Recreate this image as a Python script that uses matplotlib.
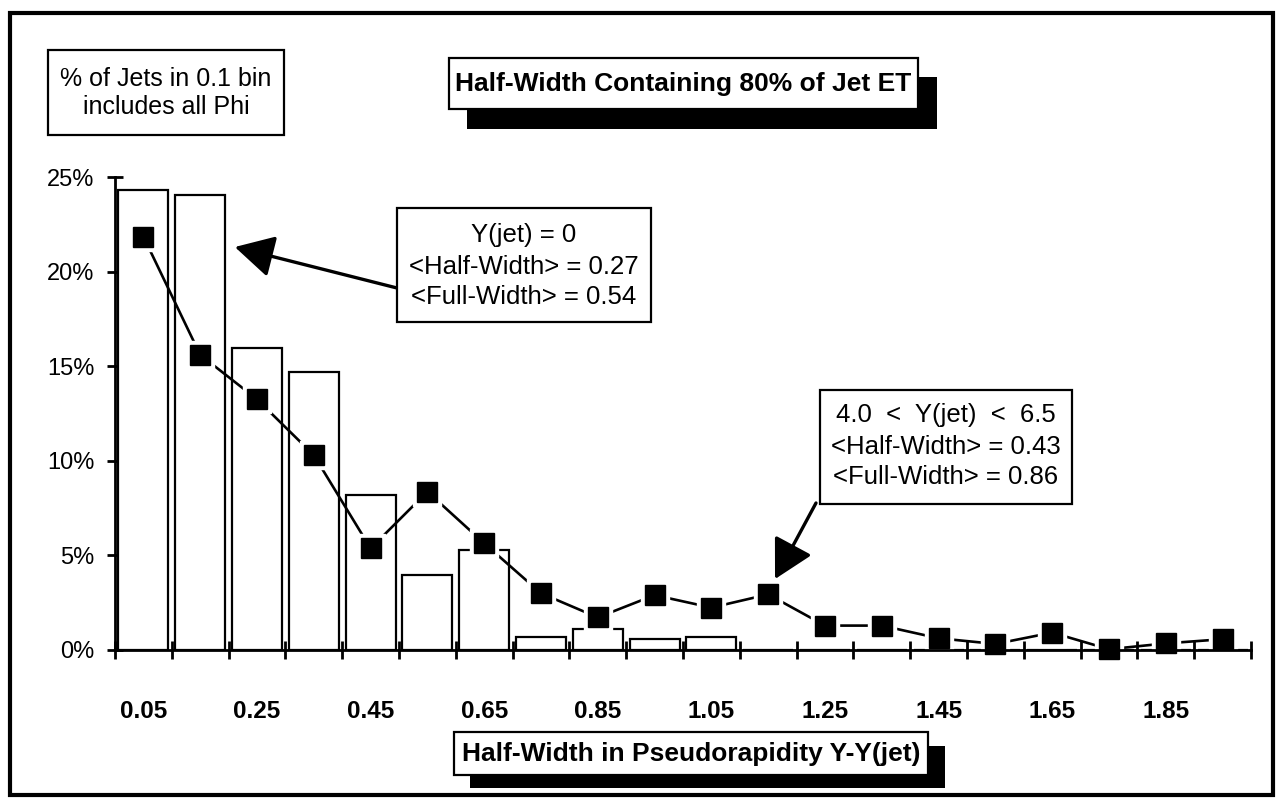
import matplotlib
matplotlib.use("Agg")
import matplotlib.pyplot as plt
from matplotlib.patches import Rectangle

# ---------------- data ----------------
bin_centers = [0.05, 0.15, 0.25, 0.35, 0.45, 0.55, 0.65, 0.75, 0.85, 0.95,
               1.05, 1.15, 1.25, 1.35, 1.45, 1.55, 1.65, 1.75, 1.85, 1.95]
# Y(jet)=0 sample (open bars), percent of jets per 0.1 bin
bar_pct = [24.3, 24.05, 15.95, 14.7, 8.2, 3.96, 5.3, 0.7, 1.1, 0.58,
           0.68, 0.0, 0.0, 0.0, 0.0, 0.0, 0.0, 0.0, 0.0, 0.0]
# 4.0 < Y(jet) < 6.5 sample (filled squares)
line_pct = [21.85, 15.6, 13.25, 10.3, 5.37, 8.37, 5.64, 3.0, 1.72, 2.9,
            2.24, 2.94, 1.29, 1.29, 0.62, 0.32, 0.92, 0.04, 0.35, 0.57]
bin_edges = [0.0, 0.1, 0.2, 0.3, 0.4, 0.5, 0.6, 0.7, 0.8, 0.9, 1.0,
             1.1, 1.2, 1.3, 1.4, 1.5, 1.6, 1.7, 1.8, 1.9, 2.0]
xlabel_pos = [0.05, 0.25, 0.45, 0.65, 0.85, 1.05, 1.25, 1.45, 1.65, 1.85]
xlabel_txt = ["0.05", "0.25", "0.45", "0.65", "0.85", "1.05", "1.25", "1.45", "1.65", "1.85"]
yticks = [0, 5, 10, 15, 20, 25]
ytick_txt = ["0%", "5%", "10%", "15%", "20%", "25%"]

title = "Half-Width Containing 80% of Jet ET"
xlab = "Half-Width in Pseudorapidity Y-Y(jet)"
ylab_note = "% of Jets in 0.1 bin\nincludes all Phi"
note1 = ["Y(jet) = 0", "<Half-Width> = 0.27", "<Full-Width> = 0.54"]
note2 = ["4.0  <  Y(jet)  <  6.5", "<Half-Width> = 0.43", "<Full-Width> = 0.86"]

# ---------------- figure ----------------
plt.rcParams['font.family'] = ['Liberation Sans', 'DejaVu Sans']
W, H = 1279, 802
fig = plt.figure(figsize=(12.79, 8.02), dpi=100)
fig.patch.set_facecolor('white')


def fx(x):
    return x / W


def fy(y):
    return 1 - y / H


def rect(x0, y0, x1, y1, **kw):
    r = Rectangle((fx(x0), fy(y1)), (x1 - x0) / W, (y1 - y0) / H,
                  transform=fig.transFigure, **kw)
    fig.add_artist(r)
    return r


ax = fig.add_axes([fx(115), fy(650), 1136 / W, 473 / H])
ax.set_facecolor('white')

ax.bar(bin_centers, bar_pct, width=0.0877, color='white', edgecolor='black',
       linewidth=1.6, zorder=2)
ax.plot(bin_centers, line_pct, color='black', lw=1.9, zorder=3, clip_on=False)
ax.plot(bin_centers, line_pct, ls='none', marker='s', ms=19.5, mfc='white',
        mec='white', zorder=4, clip_on=False)
ax.plot(bin_centers, line_pct, ls='none', marker='s', ms=14.8, mfc='black',
        mec='black', zorder=5, clip_on=False)

ax.set_xlim(0, 2.0)
ax.set_ylim(0, 25)
for s in ['top', 'right']:
    ax.spines[s].set_visible(False)
for s in ['left', 'bottom']:
    ax.spines[s].set_linewidth(2.0)
    ax.spines[s].set_zorder(6)

ax.set_yticks(yticks)
ax.set_yticklabels(ytick_txt)
ax.tick_params(axis='y', direction='inout', length=12, width=2.0,
               labelsize=17, pad=9)

ax.set_xticks(bin_edges)
ax.set_xticklabels([])
ax.set_xticks(xlabel_pos, minor=True)
ax.set_xticklabels(xlabel_txt, minor=True)
ax.tick_params(axis='x', which='major', direction='inout', length=13, width=2.0)
ax.tick_params(axis='x', which='minor', length=0, pad=36, labelsize=17.5)
for t in ax.get_xticklabels(minor=True):
    t.set_fontweight('bold')

# ---------------- outer frame ----------------
rect(10, 13, 1273, 795, fill=False, lw=3.0, edgecolor='black', zorder=10)

# ---------------- note box (top left) ----------------
rect(48, 50, 284, 135, facecolor='white', edgecolor='black', lw=1.6, zorder=8)
fig.text(fx(166), fy(93), ylab_note, ha='center', va='center', fontsize=18,
         linespacing=1.2, zorder=9)

# ---------------- title box with shadow ----------------
rect(467, 77, 937, 129, facecolor='black', edgecolor='black', lw=0, zorder=7)
rect(449, 58, 918, 109, facecolor='white', edgecolor='black', lw=1.6, zorder=8)
fig.text(fx(683), fy(84), title, ha='center', va='center', fontsize=19,
         fontweight='bold', zorder=9)

# ---------------- x-axis label box with shadow ----------------
rect(470, 746, 945, 788, facecolor='black', edgecolor='black', lw=0, zorder=7)
rect(454, 732, 928, 775, facecolor='white', edgecolor='black', lw=1.6, zorder=8)
fig.text(fx(691), fy(754), xlab, ha='center', va='center', fontsize=19,
         fontweight='bold', zorder=9)

# ---------------- annotation boxes ----------------
rect(397, 208, 651, 322, facecolor='white', edgecolor='black', lw=1.6, zorder=8)
for txt, yy in zip(note1, [235, 267, 297]):
    fig.text(fx(524), fy(yy), txt, ha='center', va='center', fontsize=18.5, zorder=9)

rect(820, 390, 1072, 504, facecolor='white', edgecolor='black', lw=1.6, zorder=8)
for txt, yy in zip(note2, [415, 447, 477]):
    fig.text(fx(946), fy(yy), txt, ha='center', va='center', fontsize=18.5, zorder=9)

arrow_style = dict(arrowstyle='-|>,head_length=1.2,head_width=0.65',
                   mutation_scale=20, lw=2.4, color='black',
                   shrinkA=0, shrinkB=0)
ax.annotate('', xy=(0.211, 21.3), xycoords='data',
            xytext=(fx(397), fy(288)), textcoords='figure fraction',
            arrowprops=arrow_style, annotation_clip=False, zorder=9)
ax.annotate('', xy=(1.162, 3.75), xycoords='data',
            xytext=(fx(816), fy(503)), textcoords='figure fraction',
            arrowprops=arrow_style, annotation_clip=False, zorder=9)

fig.savefig('out.png', dpi=100, facecolor='white')
